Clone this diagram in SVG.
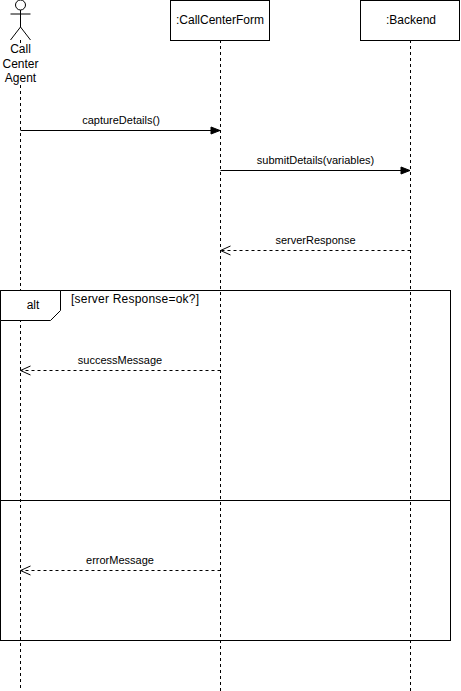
<svg xmlns="http://www.w3.org/2000/svg" width="461" height="691" viewBox="0 0 461 691">
<style>
text{font-family:"Liberation Sans",Arial,sans-serif;fill:#000}
.s{fill:none;stroke:#000;stroke-width:1}
.box{fill:#fff;stroke:#000;stroke-width:1}
.l{stroke:#000;stroke-width:1;stroke-dasharray:3 3;fill:none}
.d{stroke:#000;stroke-width:1;stroke-dasharray:3 3;fill:none}
.m{font-size:11px;text-anchor:middle}
.n{font-size:12px;text-anchor:middle}
</style>
<defs>
<marker id="solid" markerUnits="userSpaceOnUse" markerWidth="11" markerHeight="9" refX="10" refY="4.500" orient="auto"><path d="M1 1L10 4.500L1 8Z" fill="#000" stroke="#000"/></marker>
<marker id="open" markerUnits="userSpaceOnUse" markerWidth="12" markerHeight="12" refX="11" refY="6" orient="auto"><path d="M1 1.500L11 6L1 10.500" fill="none" stroke="#000"/></marker>
</defs>
<g id="lifelines">
<path class="l" d="M20.500 40V45M20.500 85V691"/>
<path class="l" d="M220.500 40V691"/>
<path class="l" d="M410.500 40V691"/>
</g>
<g id="agent">
<circle class="box" cx="20.500" cy="5" r="5"/>
<path class="s" d="M20.500 10V27M10.500 14H30.500M20.500 27L10.500 40M20.500 27L30.500 40"/>
<text class="n" x="20.500" y="53">Call</text>
<text class="n" x="20.500" y="68">Center</text>
<text class="n" x="20.500" y="82">Agent</text>
</g>
<g id="callcenterform">
<rect class="box" x="170.500" y="0.500" width="99" height="40"/>
<text class="n" x="220" y="24">:CallCenterForm</text>
</g>
<g id="backend">
<rect class="box" x="360.500" y="0.500" width="99" height="40"/>
<text class="n" x="411" y="24">:Backend</text>
</g>
<g id="alt">
<rect class="s" x="0.500" y="290.500" width="450" height="350"/>
<path class="s" d="M0.500 500.500H450.500"/>
<path d="M0.500 290.500H60.500V310.500L50.500 320.500H0.500Z" fill="#fff" stroke="#000"/>
<text class="n" x="33" y="309">alt</text>
<text x="71" y="303" font-size="12" textLength="128" lengthAdjust="spacing">[server Response=ok?]</text>
</g>
<g id="connectors">
<path class="s" d="M20.500 130.500H220" marker-end="url(#solid)"/>
<text class="m" x="121" y="124">captureDetails()</text>
<path class="s" d="M220.500 170.500H410" marker-end="url(#solid)"/>
<text class="m" x="315.500" y="164">submitDetails(variables)</text>
<path class="d" d="M410.500 250.500H220.500" marker-end="url(#open)"/>
<text class="m" x="315.500" y="244">serverResponse</text>
<path class="d" d="M220.500 370.500H20.500" marker-end="url(#open)"/>
<text class="m" x="120" y="364">successMessage</text>
<path class="d" d="M220.500 570.500H20.500" marker-end="url(#open)"/>
<text class="m" x="120" y="564">errorMessage</text>
</g>
</svg>
